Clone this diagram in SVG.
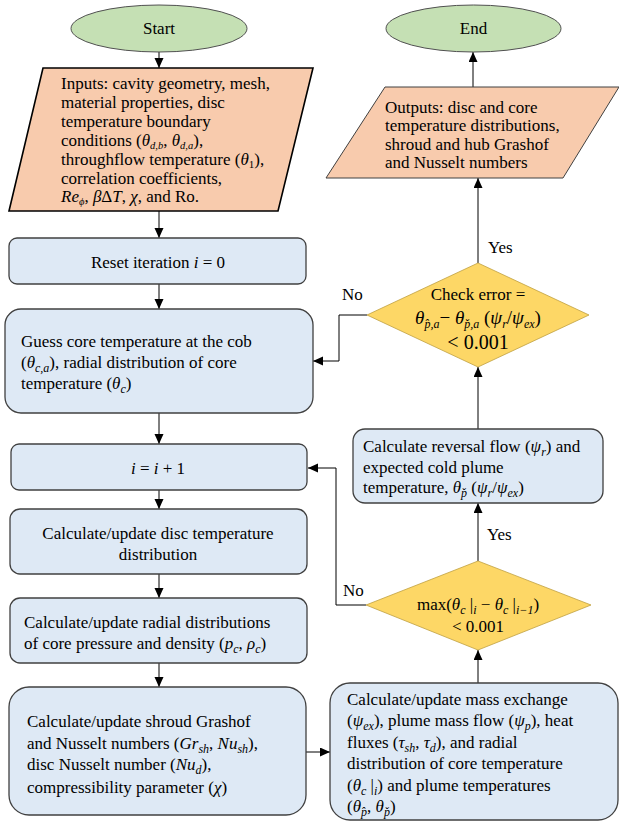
<svg xmlns="http://www.w3.org/2000/svg" width="619" height="822" viewBox="0 0 619 822" font-family="Liberation Serif, Times New Roman, serif">
<style>
text{font-family:'Liberation Serif','Times New Roman','DejaVu Serif',serif;font-size:17px;fill:#000}
.m{font-style:italic}
.s{font-size:12px;font-style:italic}
.s2{font-size:10.5px;font-style:italic}
.c{text-anchor:middle}
.term{fill:#c5e0b4;stroke:#505050;stroke-width:1}
.io{fill:#f8cbad;stroke:#000;stroke-width:1.6}
.io2{fill:#f8cbad;stroke:#404040;stroke-width:1}
.proc{fill:#dee9f5;stroke:#404040;stroke-width:1.3}
.dec{fill:#fdd766;stroke:#bfa040;stroke-width:0.8}
.con{fill:none;stroke:#000;stroke-width:1;marker-end:url(#ah)}
</style>
<defs>
<marker id="ah" markerUnits="userSpaceOnUse" markerWidth="10" markerHeight="10" refX="10" refY="4.5" orient="auto">
<path d="M0,0 L10,4.5 L0,9 z" fill="#000"/>
</marker>
</defs>

<g id="connectors">
<path class="con" d="M159,52 L159,68"/>
<path class="con" d="M159,211 L159,238"/>
<path class="con" d="M159,284 L159,309"/>
<path class="con" d="M159,413 L159,444"/>
<path class="con" d="M159,490 L159,509"/>
<path class="con" d="M159,574 L159,598"/>
<path class="con" d="M159,663 L159,687"/>
<path class="con" d="M306,752 L330,752"/>
<path class="con" d="M478,683 L478,650"/>
<path class="con" d="M478,561 L478,503"/>
<path class="con" d="M366,605 L336,605 L336,468 L308,468"/>
<path class="con" d="M478,429 L478,367"/>
<path class="con" d="M478,263 L478,178"/>
<path class="con" d="M473,87 L473,52"/>
<path class="con" d="M367,315 L339,315 L339,361 L313,361"/>
<text x="488" y="253">Yes</text>
<text x="342" y="300">No</text>
<text x="487" y="540">Yes</text>
<text x="343" y="596">No</text>
</g>

<g id="start">
<ellipse class="term" cx="159" cy="28.5" rx="88" ry="23.5"/>
<text class="c" x="159" y="34">Start</text>
</g>

<g id="inputs">
<path class="io" d="M43,68 L313,68 L278,211 L9,211 z"/>
<text x="61" y="89">Inputs: cavity geometry, mesh,</text>
<text x="61" y="108">material properties, disc</text>
<text x="61" y="127">temperature boundary</text>
<text x="61" y="146">conditions (<tspan class="m">θ</tspan><tspan class="s2" dy="3">d,b</tspan><tspan dy="-3">, </tspan><tspan class="m">θ</tspan><tspan class="s2" dy="3">d,a</tspan><tspan dy="-3">),</tspan></text>
<text x="61" y="165">throughflow temperature (<tspan class="m">θ</tspan><tspan style="font-size:11px" dy="3">1</tspan><tspan dy="-3">),</tspan></text>
<text x="61" y="184">correlation coefficients,</text>
<text x="61" y="202"><tspan class="m">Re</tspan><tspan class="s2" dy="3">ϕ</tspan><tspan dy="-3">, </tspan><tspan class="m">β</tspan>Δ<tspan class="m">T</tspan>, <tspan class="m">χ</tspan>, and Ro.</text>
</g>

<g id="reset">
<rect class="proc" x="9" y="238" width="297" height="46" rx="8"/>
<text class="c" x="158" y="268">Reset iteration <tspan class="m">i</tspan> = 0</text>
</g>

<g id="guess">
<rect class="proc" x="5" y="309" width="308" height="104" rx="16"/>
<text x="21" y="347">Guess core temperature at the cob</text>
<text x="21" y="368">(<tspan class="m">θ</tspan><tspan class="s" dy="4">c,a</tspan><tspan dy="-4">), radial distribution of core</tspan></text>
<text x="21" y="389">temperature (<tspan class="m">θ</tspan><tspan class="s" dy="4">c</tspan><tspan dy="-4">)</tspan></text>
</g>

<g id="increment">
<rect class="proc" x="11" y="444" width="296" height="46" rx="8"/>
<text class="c" x="158" y="474"><tspan class="m">i</tspan> = <tspan class="m">i</tspan> + 1</text>
</g>

<g id="disc">
<rect class="proc" x="10" y="509" width="297" height="65" rx="10"/>
<text class="c" x="158" y="539">Calculate/update disc temperature</text>
<text class="c" x="158" y="560">distribution</text>
</g>

<g id="radial">
<rect class="proc" x="10" y="598" width="297" height="65" rx="10"/>
<text x="24" y="628">Calculate/update radial distributions</text>
<text x="24" y="649">of core pressure and density (<tspan class="m">p</tspan><tspan class="s" dy="4">c</tspan><tspan dy="-4">, </tspan><tspan class="m">ρ</tspan><tspan class="s" dy="4">c</tspan><tspan dy="-4">)</tspan></text>
</g>

<g id="shroud">
<rect class="proc" x="9" y="687" width="297" height="128" rx="20"/>
<text x="27" y="727">Calculate/update shroud Grashof</text>
<text x="27" y="749">and Nusselt numbers (<tspan class="m">Gr</tspan><tspan class="s" dy="4">sh</tspan><tspan dy="-4">, </tspan><tspan class="m">Nu</tspan><tspan class="s" dy="4">sh</tspan><tspan dy="-4">),</tspan></text>
<text x="27" y="770">disc Nusselt number (<tspan class="m">Nu</tspan><tspan class="s" dy="4">d</tspan><tspan dy="-4">),</tspan></text>
<text x="27" y="793">compressibility parameter (<tspan class="m">χ</tspan>)</text>
</g>

<g id="massexchange">
<rect class="proc" x="330" y="683" width="288" height="137" rx="20"/>
<text x="347" y="705">Calculate/update mass exchange</text>
<text x="347" y="726">(<tspan class="m">ψ</tspan><tspan class="s" dy="4">ex</tspan><tspan dy="-4">), plume mass flow (</tspan><tspan class="m">ψ</tspan><tspan class="s" dy="4">p</tspan><tspan dy="-4">), heat</tspan></text>
<text x="347" y="748">fluxes (<tspan class="m">τ</tspan><tspan class="s" dy="4">sh</tspan><tspan dy="-4">, </tspan><tspan class="m">τ</tspan><tspan class="s" dy="4">d</tspan><tspan dy="-4">), and radial</tspan></text>
<text x="347" y="769">distribution of core temperature</text>
<text x="347" y="791">(<tspan class="m">θ</tspan><tspan class="s" dy="4">c</tspan><tspan dy="-4"> |</tspan><tspan class="s" dy="4">i</tspan><tspan dy="-4">) and plume temperatures</tspan></text>
<text x="347" y="812">(<tspan class="m">θ</tspan><tspan class="s" dy="4">p̂</tspan><tspan dy="-4">, </tspan><tspan class="m">θ</tspan><tspan class="s" dy="4">p̌</tspan><tspan dy="-4">)</tspan></text>
</g>

<g id="convergence">
<path class="dec" d="M478,561 L591,605 L478,650 L366,605 z"/>
<text class="c" x="478" y="610">max(<tspan class="m">θ</tspan><tspan class="s" dy="4">c</tspan><tspan dy="-4"> |</tspan><tspan class="s" dy="4">i</tspan><tspan dy="-4"> − </tspan><tspan class="m">θ</tspan><tspan class="s" dy="4">c</tspan><tspan dy="-4"> |</tspan><tspan class="s" dy="4">i−1</tspan><tspan dy="-4">)</tspan></text>
<text class="c" x="478" y="632">&lt; 0.001</text>
</g>

<g id="reversal">
<rect class="proc" x="353" y="429" width="250" height="74" rx="12"/>
<text x="363" y="452">Calculate reversal flow (<tspan class="m">ψ</tspan><tspan class="s" dy="4">r</tspan><tspan dy="-4">) and</tspan></text>
<text x="363" y="473">expected cold plume</text>
<text x="363" y="493">temperature, <tspan class="m">θ</tspan><tspan class="s" dy="4">p̌</tspan><tspan dy="-4"> (</tspan><tspan class="m">ψ</tspan><tspan class="s" dy="4">r</tspan><tspan dy="-4">/</tspan><tspan class="m">ψ</tspan><tspan class="s" dy="4">ex</tspan><tspan dy="-4">)</tspan></text>
</g>

<g id="checkerror">
<path class="dec" d="M478,263 L589,315 L478,367 L367,315 z"/>
<text class="c" x="478" y="300">Check error =</text>
<text class="c" x="478" y="324" style="font-size:19px"><tspan class="m">θ</tspan><tspan class="s" dy="4">p̂,a</tspan><tspan dy="-4">− </tspan><tspan class="m">θ</tspan><tspan class="s" dy="4">p̌,a</tspan><tspan dy="-4"> (</tspan><tspan class="m">ψ</tspan><tspan class="s" dy="4">r</tspan><tspan dy="-4">/</tspan><tspan class="m">ψ</tspan><tspan class="s" dy="4">ex</tspan><tspan dy="-4">)</tspan></text>
<text class="c" x="478" y="349" style="font-size:20px">&lt; 0.001</text>
</g>

<g id="outputs">
<path class="io2" d="M385,87 L619,87 L563,178 L326,178 z"/>
<text x="385" y="113">Outputs: disc and core</text>
<text x="385" y="131">temperature distributions,</text>
<text x="385" y="150">shroud and hub Grashof</text>
<text x="385" y="168">and Nusselt numbers</text>
</g>

<g id="end">
<ellipse class="term" cx="473.5" cy="28.5" rx="87.5" ry="23.5"/>
<text class="c" x="473.5" y="34">End</text>
</g>
</svg>
